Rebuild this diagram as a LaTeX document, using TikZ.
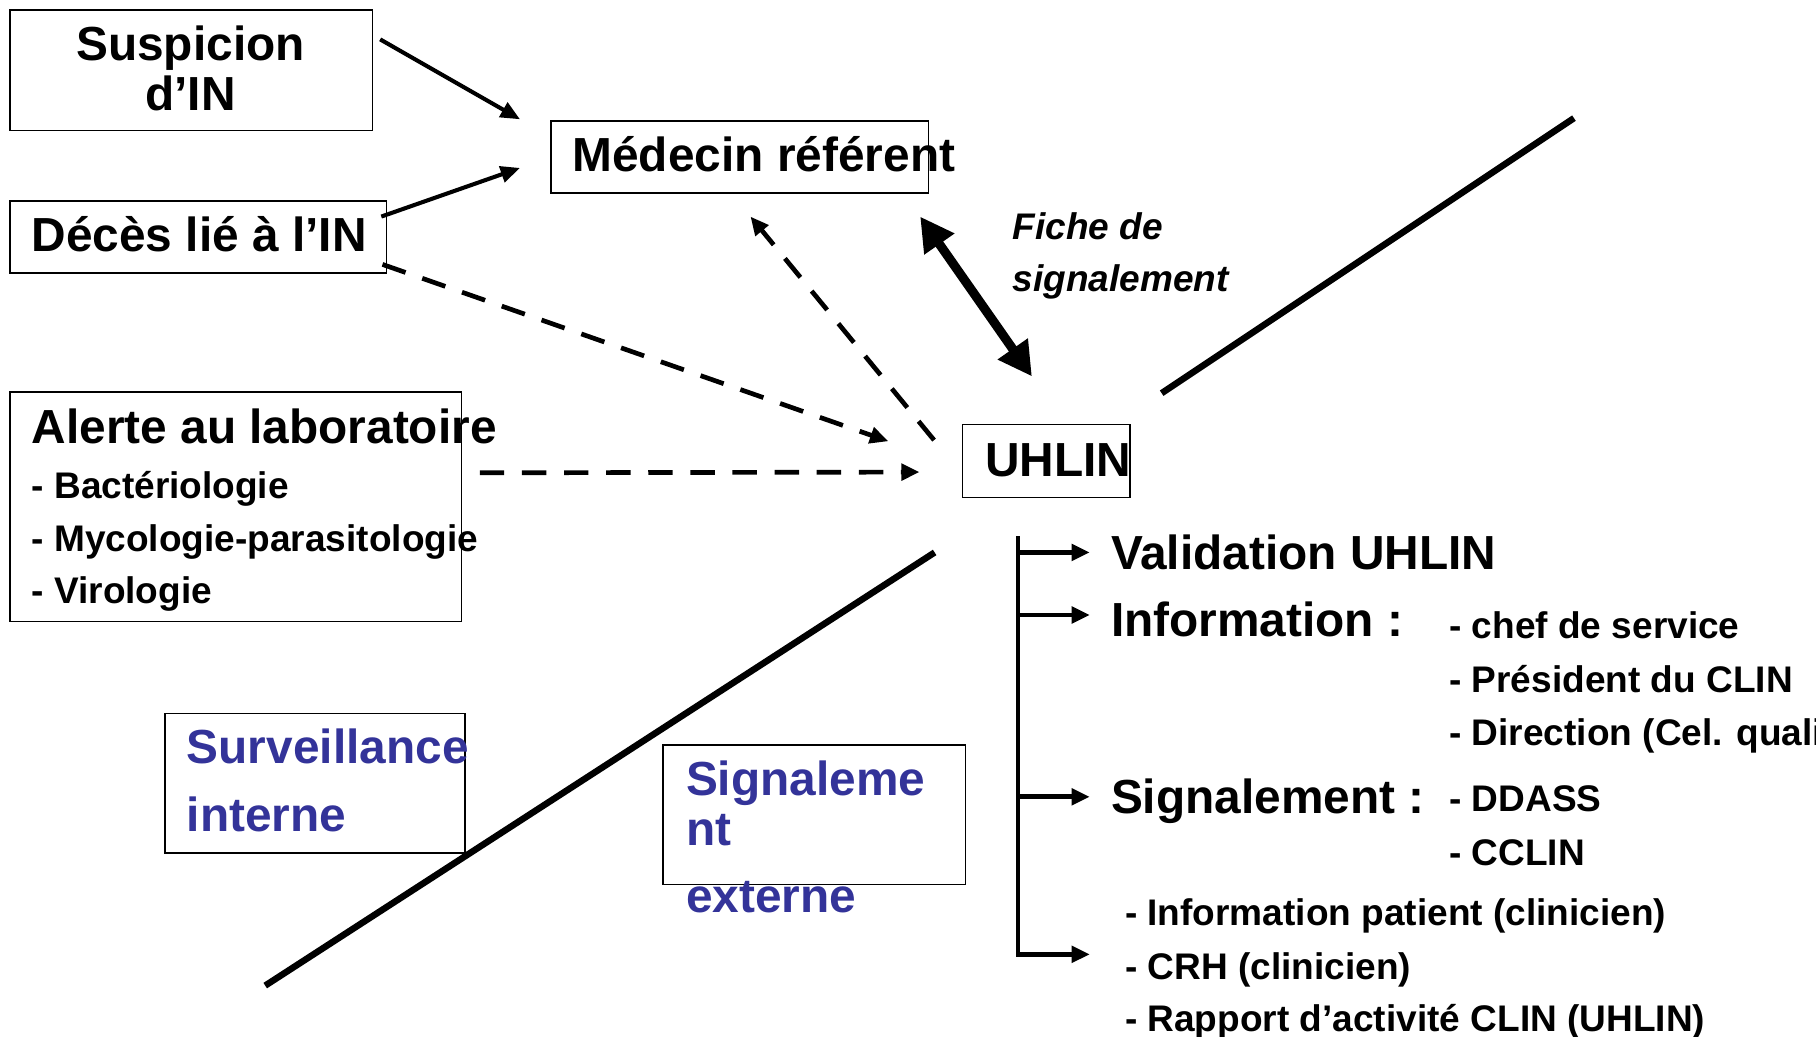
\documentclass[tikz,border=0pt]{standalone}
\usepackage{fontspec}
\setmainfont{Liberation Sans}
\usetikzlibrary{arrows.meta}
\definecolor{survblue}{RGB}{51,51,153}
\newcommand{\bigtxt}{\fontsize{23.5}{28}\selectfont\bfseries}
\newcommand{\smalltxt}{\fontsize{18.2}{22}\selectfont\bfseries}

\begin{document}
\begin{tikzpicture}[x=0.02cm, y=-0.02cm,
    plain/.style={-{Triangle[length=9.5pt, width=8pt]}, line width=2pt},
    dashy/.style={-{Triangle[length=9pt, width=8pt]}, line width=2.3pt, dash pattern=on 12pt off 8.7pt},
    fat/.style={{Triangle[length=16.5pt, width=17pt]}-{Triangle[length=16.5pt, width=17pt]}, line width=4.5pt},
    brarr/.style={-{Triangle[length=9pt, width=8pt]}, line width=2.3pt},
    axis/.style={line width=3.2pt}]
\useasboundingbox (0,0) rectangle (1568,895);
\begin{scope}[every node/.style={draw, line width=0.75pt, inner sep=0cm, anchor=north west}]
    \node[minimum width=6.26cm, minimum height=2.08cm] (susp) at (8,8) {};
    \node[minimum width=6.5cm, minimum height=1.24cm] (deces) at (8,173) {};
    \node[minimum width=6.52cm, minimum height=1.24cm] (med) at (475,104) {};
    \node[minimum width=7.8cm, minimum height=3.96cm] (alerte) at (8,338) {};
    \node[minimum width=2.89cm, minimum height=1.26cm] (uhlin) at (830.5,366) {};
    \node[minimum width=5.18cm, minimum height=2.41cm] (surv) at (142,615.5) {};
    \node[minimum width=5.22cm, minimum height=2.41cm] (signext) at (572,642.5) {};
\end{scope}
\begin{scope}[every node/.style={inner sep=0cm, anchor=base west, font=\bigtxt}]
    \node[anchor=base] (susp1) at (164.5,52) {Suspicion};
    \node[anchor=base] (susp2) at (164.5,95) {d’IN};
    \node (decestxt) at (27,217) {Décès lié à l’IN};
    \node (medtxt) at (494,148) {Médecin référent};
    \node (alerte1) at (27,383) {Alerte au laboratoire};
    \node[font=\smalltxt] (alerte2) at (27,430) {- Bactériologie};
    \node[font=\smalltxt] (alerte3) at (27,476) {- Mycologie-parasitologie};
    \node[font=\smalltxt] (alerte4) at (27,521) {- Virologie};
    \node (uhlintxt) at (850.5,411.5) {UHLIN};
    \node[font=\smalltxt\itshape] (fiche1) at (874,207) {Fiche de};
    \node[font=\smalltxt\itshape] (fiche2) at (874,252) {signalement};
    \node[text=survblue] (surv1) at (161,659) {Surveillance};
    \node[text=survblue] (surv2) at (161,718) {interne};
    \node[text=survblue] (ext1) at (592,687) {Signaleme};
    \node[text=survblue] (ext2) at (592,730) {nt};
    \node[text=survblue] (ext3) at (592,788) {externe};
    \node (valid) at (959,492) {Validation UHLIN};
    \node (info) at (959,550) {Information :};
    \node[font=\smalltxt] (info1) at (1251,551) {- chef de service};
    \node[font=\smalltxt] (info2) at (1251,597.5) {- Président du CLIN};
    \node[font=\smalltxt] (info3) at (1251,644) {- Direction (Cel. qualité)};
    \node (sig) at (959,702) {Signalement :};
    \node[font=\smalltxt] (sig1) at (1251,701) {- DDASS};
    \node[font=\smalltxt] (sig2) at (1251,747) {- CCLIN};
    \node[font=\smalltxt] (pat) at (971,799.5) {- Information patient (clinicien)};
    \node[font=\smalltxt] (crh) at (971,845.5) {- CRH (clinicien)};
    \node[font=\smalltxt] (rapp) at (971,891) {- Rapport d’activité CLIN (UHLIN)};
\end{scope}
% free ends of the connectors
\coordinate (medin1) at (449,103);
\coordinate (medin2) at (449,145);
\coordinate (medin3) at (648,187);
\coordinate (uhin1) at (767,381);
\coordinate (uhin2) at (794,407.6);
\coordinate (fichetop) at (794.5,187);
\coordinate (fichebot) at (891,325);
\coordinate (btop) at (879,465);
\coordinate (b1) at (879,477);
\coordinate (b2) at (879,531);
\coordinate (b3) at (879,688);
\coordinate (b4) at (879,824);
\begin{scope}[every edge/.style={draw=black}]
    \path ([shift={(6,26)}]susp.north east) edge[plain] (medin1);
    \path ([shift={(-5,14)}]deces.north east) edge[plain] (medin2);
    \path ([shift={(-4,-8)}]deces.south east) edge[dashy] (uhin1);
    \path ([shift={(15,-29.4)}]alerte.east) edge[dashy] (uhin2);
    \path ([shift={(-24,14)}]uhlin.north west) edge[dashy] (medin3);
    \path (fichetop) edge[fat] (fichebot);
    \path (b1) edge[brarr, shorten >=0.36cm] (b1 -| valid.west);
    \path (b2) edge[brarr, shorten >=0.36cm] (b2 -| info.west);
    \path (b3) edge[brarr, shorten >=0.36cm] (b3 -| sig.west);
    \path (b4) edge[brarr, shorten >=0.6cm] (b4 -| crh.west);
\end{scope}
\draw[brarr, -, line cap=rect] (btop) -- (b4);
\draw[axis] (1003,339.5) -- (1359,102);
\draw[axis] (807,477) -- (229,851);
\end{tikzpicture}
\end{document}
